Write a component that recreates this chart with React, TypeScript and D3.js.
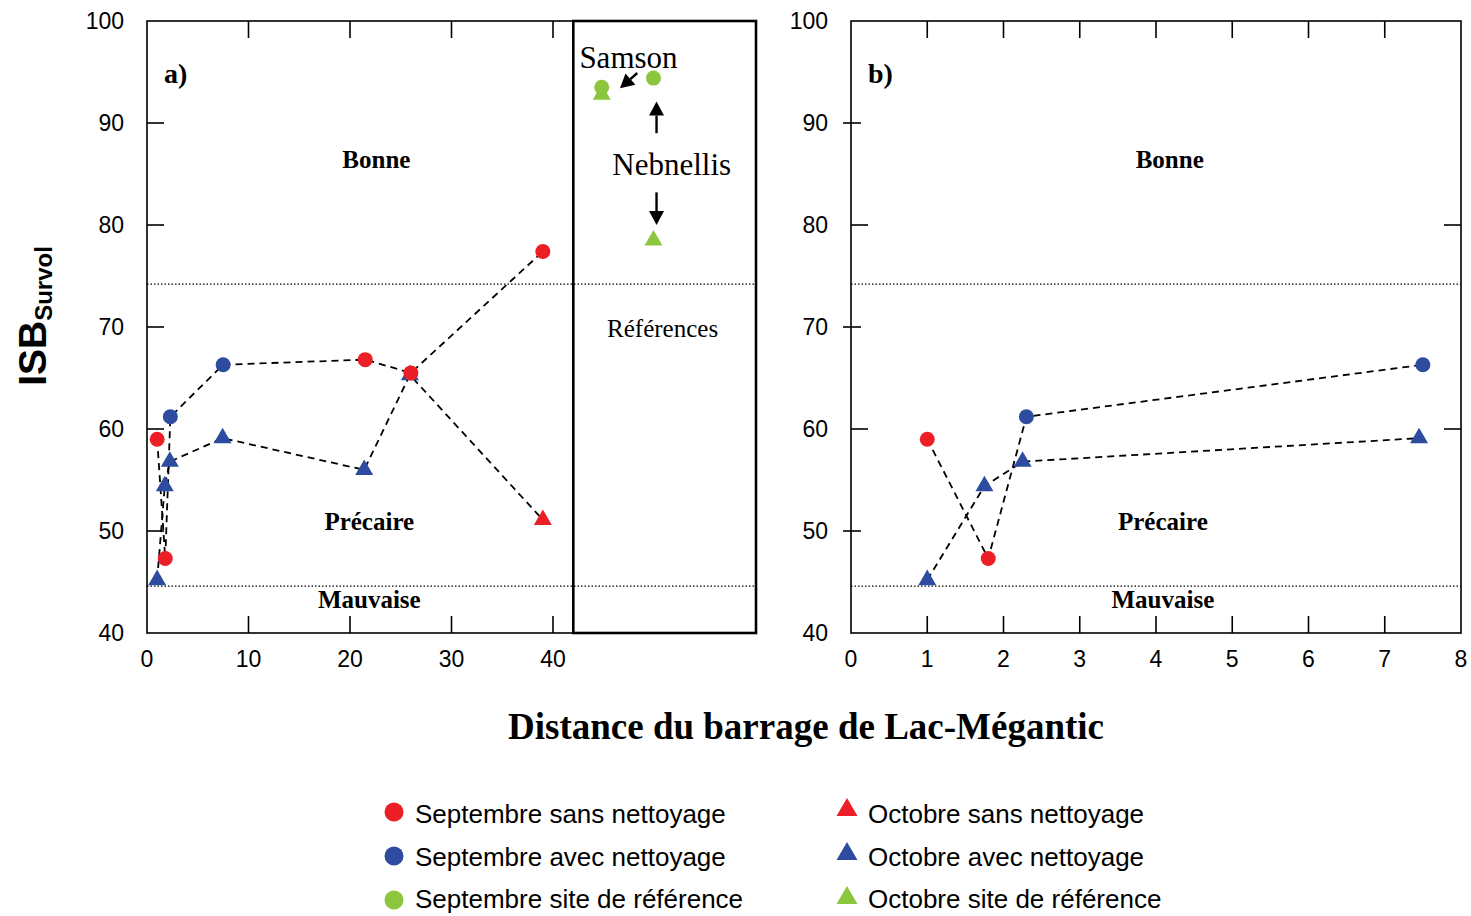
import React from "react";
import * as d3 from "d3";

// ---------- data ----------
const septSansX = [1.0, 1.8, 21.5, 26.0, 39.0];
const septSansY = [59.0, 47.3, 66.8, 65.5, 77.4];
const septAvecX = [2.3, 7.5];
const septAvecY = [61.2, 66.3];
const octSansX = [39.0];
const octSansY = [51.1];
const octAvecX = [1.0, 1.75, 2.25, 7.45, 21.4, 25.9];
const octAvecY = [45.2, 54.4, 56.8, 59.1, 56.0, 65.3];
const refSites = ["Samson", "Nebnellis"];
const septRefX = [44.8, 49.9];
const septRefY = [93.5, 94.4];
const octRefX = [44.8, 49.9];
const octRefY = [92.8, 78.5];
const thresholds = [74.2, 44.6];
const yTicks = [40, 50, 60, 70, 80, 90, 100];
const xTicksA = [0, 10, 20, 30, 40];
const xTicksB = [0, 1, 2, 3, 4, 5, 6, 7, 8];
const legendLeft = ["Septembre sans nettoyage", "Septembre avec nettoyage", "Septembre site de référence"];
const legendRight = ["Octobre sans nettoyage", "Octobre avec nettoyage", "Octobre site de référence"];

const SVG_W = 1471;
const SVG_H = 916;
const RED = "#ec1f26";
const BLUE = "#2d4b9f";
const GREEN = "#8cc63f";
const SERIF = "'Liberation Serif', 'Times New Roman', serif";
const SANS = "'Liberation Sans', Arial, sans-serif";

const yScale = d3.scaleLinear().domain([40, 100]).range([633, 21]);
const xA = d3.scaleLinear().domain([0, 60]).range([147, 756]);
const xB = d3.scaleLinear().domain([0, 8]).range([851, 1461]);

const zip = (xs: number[], ys: number[]) => xs.map((x, i) => ({ x, y: ys[i] }));
const septPts = [...zip(septSansX, septSansY), ...zip(septAvecX, septAvecY)].sort((a, b) => a.x - b.x);
const octPts = [...zip(octAvecX, octAvecY), ...zip(octSansX, octSansY)].sort((a, b) => a.x - b.x);

const tri = (size: number) => d3.symbol().type(d3.symbolTriangle).size(size)() as string;
const R = 7.5;
const TRI = 140;

function Circles({ pts, x, color, max }: any) {
  return (
    <g>
      {pts.filter((p: any) => p.x <= max).map((p: any, i: number) => (
        <circle key={i} cx={x(p.x)} cy={yScale(p.y)} r={R} fill={color} />
      ))}
    </g>
  );
}
function Tris({ pts, x, color, max }: any) {
  const d = tri(TRI);
  return (
    <g>
      {pts.filter((p: any) => p.x <= max).map((p: any, i: number) => (
        <path key={i} d={d} transform={`translate(${x(p.x)},${yScale(p.y)})`} fill={color} />
      ))}
    </g>
  );
}

function Panel({ x, xTicks, max, label, refBox, zoneX }: any) {
  const line = d3
    .line<any>()
    .x((p: any) => x(p.x))
    .y((p: any) => yScale(p.y));
  const [x0, x1] = x.range();
  const y0 = yScale(40), y1 = yScale(100);
  const sept = septPts.filter((p) => p.x <= max);
  const oct = octPts.filter((p) => p.x <= max);
  const tickLen = 17;
  return (
    <g>
      {thresholds.map((t, i) => (
        <line key={i} x1={x0} x2={x1} y1={yScale(t)} y2={yScale(t)} stroke="#000" strokeWidth={1.4} strokeDasharray="1.5,2" />
      ))}
      <rect x={x0} y={y1} width={x1 - x0} height={y0 - y1} fill="none" stroke="#000" strokeWidth={1.6} />
      {refBox && (
        <rect x={x(42)} y={y1} width={x1 - x(42)} height={y0 - y1} fill="none" stroke="#000" strokeWidth={2.6} />
      )}
      {yTicks.slice(1, -1).map((t) => {
        const cross = !refBox && (t === 90 || t === 70 || t === 50);
        return (
          <line key={t} x1={cross ? x0 - 8 : x0} x2={x0 + (cross ? 10 : tickLen)} y1={yScale(t)} y2={yScale(t)} stroke="#000" strokeWidth={1.6} />
        );
      })}
      {!refBox &&
        [80, 60].map((t) => (
          <line key={"r" + t} x1={x1 - tickLen} x2={x1} y1={yScale(t)} y2={yScale(t)} stroke="#000" strokeWidth={1.6} />
        ))}
      {yTicks.map((t) => (
        <text key={t} x={x0 - 23} y={yScale(t)} dy="0.36em" textAnchor="end" fontFamily={SANS} fontSize={23}>
          {t}
        </text>
      ))}
      {xTicks.slice(1).filter((t: number) => t < (refBox ? 42 : 8)).map((t: number) => (
        <g key={t}>
          <line x1={x(t)} x2={x(t)} y1={y0} y2={y0 - tickLen} stroke="#000" strokeWidth={1.6} />
          <line x1={x(t)} x2={x(t)} y1={y1} y2={y1 + tickLen} stroke="#000" strokeWidth={1.6} />
        </g>
      ))}
      {xTicks.map((t: number) => (
        <text key={t} x={x(t)} y={667} textAnchor="middle" fontFamily={SANS} fontSize={23}>
          {t}
        </text>
      ))}
      <path d={line(sept) as string} fill="none" stroke="#000" strokeWidth={1.8} strokeDasharray="7,5" />
      <path d={line(oct) as string} fill="none" stroke="#000" strokeWidth={1.8} strokeDasharray="7,5" />
      <Tris pts={zip(octAvecX, octAvecY)} x={x} color={BLUE} max={max} />
      <Tris pts={zip(octSansX, octSansY)} x={x} color={RED} max={max} />
      <Circles pts={zip(septAvecX, septAvecY)} x={x} color={BLUE} max={max} />
      <Circles pts={zip(septSansX, septSansY)} x={x} color={RED} max={max} />
      <g fontFamily={SERIF} fontWeight="bold" fontSize={25} textAnchor="middle">
        <text x={x(zoneX[0])} y={yScale(85.6)}>Bonne</text>
        <text x={x(zoneX[1])} y={yScale(50.1)}>Précaire</text>
        <text x={x(zoneX[1])} y={yScale(42.5)}>Mauvaise</text>
      </g>
      <text x={x0 + 17} y={83} fontFamily={SERIF} fontWeight="bold" fontSize={28}>
        {label}
      </text>
    </g>
  );
}

function Arrow({ from, to }: any) {
  const ax = xA(from[0]), ay = yScale(from[1]);
  const bx = xA(to[0]), by = yScale(to[1]);
  const ang = Math.atan2(by - ay, bx - ax);
  const hl = 14, hw = 7.5;
  const baseX = bx - hl * Math.cos(ang), baseY = by - hl * Math.sin(ang);
  const px = -Math.sin(ang) * hw, py = Math.cos(ang) * hw;
  return (
    <g>
      <line x1={ax} y1={ay} x2={baseX} y2={baseY} stroke="#000" strokeWidth={2.4} />
      <path d={`M${bx},${by}L${baseX + px},${baseY + py}L${baseX - px},${baseY - py}Z`} fill="#000" />
    </g>
  );
}

export default function App() {
  const triLegend = tri(190);
  return (
    <div style={{ position: "absolute", left: 0, top: 0 }}>
      <svg width={SVG_W} height={SVG_H} style={{ display: "block", background: "#fff" }}>
        <Panel x={xA} xTicks={xTicksA} max={60} label="a)" refBox={true} zoneX={[22.6, 21.9]} />
        <Panel x={xB} xTicks={xTicksB} max={8} label="b)" refBox={false} zoneX={[4.18, 4.09]} />

        {octRefX.map((v, i) => (
          <path key={"or" + i} d={tri(TRI)} transform={`translate(${xA(v)},${yScale(octRefY[i])})`} fill={GREEN} />
        ))}
        {septRefX.map((v, i) => (
          <circle key={"sr" + i} cx={xA(v)} cy={yScale(septRefY[i])} r={R} fill={GREEN} />
        ))}
        <text x={xA(42.6)} y={68} fontFamily={SERIF} fontSize={31}>{refSites[0]}</text>
        <text x={xA(51.7)} y={175} fontFamily={SERIF} fontSize={31} textAnchor="middle">{refSites[1]}</text>
        <text x={xA(50.8)} y={337} fontFamily={SERIF} fontSize={25} textAnchor="middle">Références</text>
        <Arrow from={[48.3, 94.9]} to={[46.6, 93.4]} />
        <Arrow from={[50.2, 89.0]} to={[50.2, 92.1]} />
        <Arrow from={[50.2, 83.2]} to={[50.2, 80.0]} />

        <text x={806} y={739} textAnchor="middle" fontFamily={SERIF} fontWeight="bold" fontSize={37}>
          Distance du barrage de Lac-Mégantic
        </text>
        <text transform="translate(46,316) rotate(-90)" textAnchor="middle" fontFamily={SANS} fontWeight="bold" fontSize={39}>
          ISB
          <tspan fontSize={24} dy={6}>Survol</tspan>
        </text>

        {legendLeft.map((l, i) => (
          <g key={l}>
            <circle cx={394} cy={812 + i * 44} r={9.5} fill={[RED, BLUE, GREEN][i]} />
            <text x={415} y={823 + i * 42.5} fontFamily={SANS} fontSize={26}>{l}</text>
          </g>
        ))}
        {legendRight.map((l, i) => (
          <g key={l}>
            <path d={triLegend} transform={`translate(847,${810 + i * 44})`} fill={[RED, BLUE, GREEN][i]} />
            <text x={868} y={823 + i * 42.5} fontFamily={SANS} fontSize={26}>{l}</text>
          </g>
        ))}
      </svg>
    </div>
  );
}
